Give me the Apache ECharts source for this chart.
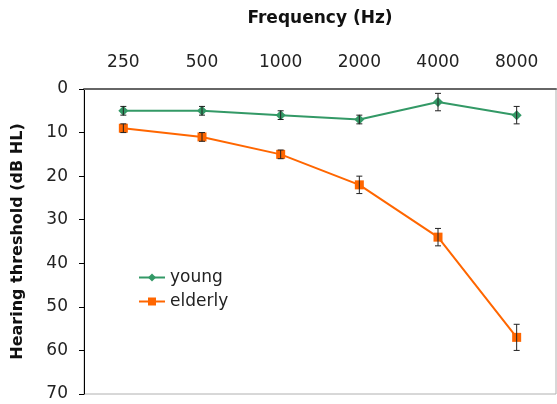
<!DOCTYPE html>
<html>
<head>
<meta charset="utf-8">
<script src="https://cdn.jsdelivr.net/npm/echarts@6/dist/echarts.min.js"></script>
<style>html,body{margin:0;padding:0;background:#fff}#c{width:557px;height:404px}</style>
</head>
<body>
<div id="c"></div>
<script>
const categories = ['250', '500', '1000', '2000', '4000', '8000'];
const youngValues = [5, 5, 6, 7, 3, 6];
const youngErrors = [1, 1, 1, 1, 2, 2];
const elderlyValues = [9, 11, 15, 22, 34, 57];
const elderlyErrors = [1, 1, 1, 2, 2, 3];
const yTicks = [0, 10, 20, 30, 40, 50, 60, 70];

function errData(vals, errs) {
  return vals.map((v, i) => [i, v - errs[i], v + errs[i]]);
}
function errRender(params, api) {
  const x = api.value(0);
  const lo = api.coord([x, api.value(1)]);
  const hi = api.coord([x, api.value(2)]);
  const w = 3;
  const style = { stroke: '#222', lineWidth: 1 };
  return {
    type: 'group',
    children: [
      { type: 'line', shape: { x1: lo[0], y1: lo[1], x2: hi[0], y2: hi[1] }, style },
      { type: 'line', shape: { x1: lo[0] - w, y1: lo[1], x2: lo[0] + w, y2: lo[1] }, style },
      { type: 'line', shape: { x1: hi[0] - w, y1: hi[1], x2: hi[0] + w, y2: hi[1] }, style }
    ]
  };
}

const chart = echarts.init(document.getElementById('c'));
chart.setOption({
  backgroundColor: '#fff',
  animation: false,
  textStyle: { fontFamily: 'DejaVu Sans' },
  grid: { left: 84, top: 89, right: 1, bottom: 10, containLabel: false, outerBoundsMode: 'none',
    show: true, borderColor: '#b0b0b0', borderWidth: 1 },
  legend: {
    left: 133, top: 264, orient: 'vertical', itemGap: 7, itemWidth: 26, itemHeight: 10,
    textStyle: { fontFamily: 'DejaVu Sans', fontSize: 17, color: '#222' },
    data: ['young', 'elderly']
  },
  xAxis: {
    type: 'category', data: categories, position: 'top',
    name: 'Frequency (Hz)', nameLocation: 'middle', nameGap: 62,
    nameTextStyle: { fontFamily: 'DejaVu Sans', fontWeight: 'bold', fontSize: 17, color: '#111' },
    axisLine: { lineStyle: { color: '#666', width: 2 } },
    axisTick: { show: false },
    axisLabel: { fontSize: 17, color: '#222', margin: 18 },
    splitLine: { show: false }
  },
  yAxis: {
    type: 'value', inverse: true, min: 0, max: 70, interval: 10,
    name: 'Hearing threshold (dB HL)', nameLocation: 'middle', nameGap: 58,
    nameTextStyle: { fontFamily: 'DejaVu Sans', fontWeight: 'bold', fontSize: 16, color: '#111' },
    axisLine: { show: true, lineStyle: { color: '#000', width: 1 } },
    axisTick: { show: true, length: 5, lineStyle: { color: '#000' } },
    axisLabel: { fontSize: 17, color: '#222', margin: 16,
      formatter: v => yTicks.includes(v) ? String(v) : '' },
    splitLine: { show: false }
  },
  series: [
    {
      name: 'young', type: 'line', data: youngValues,
      symbol: 'diamond', symbolSize: 10,
      itemStyle: { color: '#339966' }, lineStyle: { color: '#339966', width: 2 }, z: 3
    },
    {
      name: 'elderly', type: 'line', data: elderlyValues,
      symbol: 'rect', symbolSize: 9,
      itemStyle: { color: '#ff6600' }, lineStyle: { color: '#ff6600', width: 2 }, z: 3
    },
    {
      type: 'custom', renderItem: errRender, data: errData(youngValues, youngErrors),
      encode: { x: 0, y: [1, 2] }, z: 4, silent: true
    },
    {
      type: 'custom', renderItem: errRender, data: errData(elderlyValues, elderlyErrors),
      encode: { x: 0, y: [1, 2] }, z: 4, silent: true
    }
  ]
});
</script>
</body>
</html>
